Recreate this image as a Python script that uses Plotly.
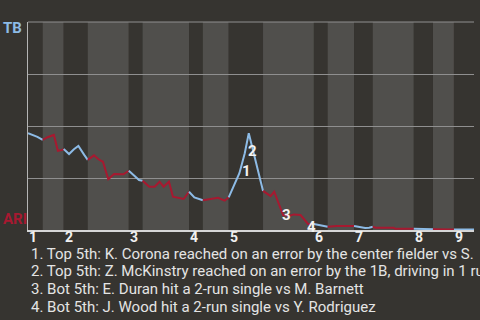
import plotly.graph_objects as go

# ---------------- data ----------------
teams = ["TB", "ARI"]
inning_labels = ["1", "2", "3", "4", "5", "6", "7", "8", "9"]
# half-inning boundaries along the play axis (top 1st, bot 1st, top 2nd, ...)
half_inning_edges = [0, 3.3, 8.0, 13.4, 22.6, 25.7, 36.1, 39.2, 45.0, 52.7,
                     64.1, 67.2, 73.1, 77.3, 86.5, 90.8, 95.5, 100]
# play position and TB win probability
play_x = [0, 1.0, 2.1, 3.3, 4.4, 5.8, 6.7, 7.7, 8.0, 9.2, 10.3, 11.3, 12.6, 13.4,
          14.8, 15.8, 16.8, 18.0, 19.3, 21.4, 22.6, 24.9, 25.7, 27.2, 28.4, 29.5,
          30.4, 31.6, 32.5, 33.6, 34.9, 36.1, 37.3, 39.2, 40.7, 42.6, 44.1, 45.0,
          46.3, 47.4, 48.6, 49.5, 52.7, 53.6, 54.4, 55.2, 57.2, 58.7, 59.6, 61.1,
          62.8, 64.1, 66.0, 67.2, 69.2, 73.1, 74.8, 75.6, 76.5, 77.3, 77.9, 82.0,
          82.3, 86.5, 90.8, 95.5, 100]
win_prob_tb = [0.465, 0.458, 0.448, 0.433, 0.446, 0.457, 0.381, 0.385, 0.389, 0.365,
               0.388, 0.404, 0.361, 0.337, 0.359, 0.340, 0.328, 0.244, 0.269, 0.268,
               0.285, 0.240, 0.237, 0.208, 0.208, 0.232, 0.208, 0.232, 0.160, 0.155,
               0.149, 0.184, 0.157, 0.143, 0.149, 0.155, 0.141, 0.157, 0.216, 0.273,
               0.369, 0.465, 0.188, 0.173, 0.163, 0.184, 0.072, 0.069, 0.075, 0.072,
               0.029, 0.029, 0.019, 0.016, 0.019, 0.019, 0.013, 0.010, 0.011, 0.016,
               0.011, 0.011, 0.006, 0.006, 0.004, 0.003, 0.002]
event_labels = ["1", "2", "3", "4"]
event_label_x = [49.1, 50.4, 58.0, 63.6]
event_label_y = [0.284, 0.380, 0.070, 0.014]
footnotes = [
    "1. Top 5th: K. Corona reached on an error by the center fielder vs S.",
    "2. Top 5th: Z. McKinstry reached on an error by the 1B, driving in 1 run",
    "3. Bot 5th: E. Duran hit a 2-run single vs M. Barnett",
    "4. Bot 5th: J. Wood hit a 2-run single vs Y. Rodriguez",
]

# ---------------- style ----------------
BG = "#363430"
BAND = "#504f4c"
GRID = "#8f8f8f"
BLUE = "#8dbbe6"
RED = "#a71930"
FONT = "Roboto"
W, H = 480, 320
ML, MR, MT, MB = 28, 6, 22, 90
PW, PH = W - ML - MR, H - MT - MB


def py_to_paper(py):
    return (H - MB - py) / PH


def px_to_paper(px):
    return (px - ML) / PW


fig = go.Figure()

# line segments coloured by half inning
for k in range(len(half_inning_edges) - 1):
    lo, hi = half_inning_edges[k], half_inning_edges[k + 1]
    xs = [x for x in play_x if lo - 1e-9 <= x <= hi + 1e-9]
    ys = [y for x, y in zip(play_x, win_prob_tb) if lo - 1e-9 <= x <= hi + 1e-9]
    fig.add_trace(go.Scatter(x=xs, y=ys, mode="lines",
                             line=dict(color=BLUE if k % 2 == 0 else RED, width=2),
                             hoverinfo="skip", showlegend=False))

shapes = []
for k in range(len(half_inning_edges) - 1):
    shapes.append(dict(type="rect", xref="x", yref="paper",
                       x0=half_inning_edges[k], x1=half_inning_edges[k + 1],
                       y0=0, y1=1, fillcolor=BG if k % 2 == 0 else BAND,
                       line=dict(width=0), layer="below"))
# top grid line at 100%
shapes.append(dict(type="line", xref="paper", yref="paper", x0=0, x1=1, y0=1, y1=1,
                   line=dict(color=GRID, width=1), layer="below"))

annotations = []
# inning numbers at the start of each top half
for i, lab in enumerate(inning_labels):
    annotations.append(dict(x=half_inning_edges[2 * i], y=py_to_paper(237),
                            xref="x", yref="paper", text="<b>" + lab + "</b>",
                            showarrow=False, xanchor="left", yanchor="middle",
                            xshift=-1,
                            font=dict(family=FONT, size=14, color="#f0f0f0")))
# event labels
for lab, ex, ey in zip(event_labels, event_label_x, event_label_y):
    annotations.append(dict(x=ex, y=ey, xref="x", yref="y",
                            text="<b>" + lab + "</b>", showarrow=False,
                            xanchor="center", yanchor="middle",
                            font=dict(family=FONT, size=15, color="#f2f2f2")))
# team labels
annotations.append(dict(x=px_to_paper(1), y=py_to_paper(28), xref="paper", yref="paper",
                        text="<b>" + teams[0] + "</b>", showarrow=False,
                        xanchor="left", yanchor="middle",
                        font=dict(family=FONT, size=15, color=BLUE)))
annotations.append(dict(x=px_to_paper(1), y=py_to_paper(219), xref="paper", yref="paper",
                        text="<b>" + teams[1] + "</b>", showarrow=False,
                        xanchor="left", yanchor="middle",
                        font=dict(family=FONT, size=15, color=RED)))
# footnotes
for i, t in enumerate(footnotes):
    annotations.append(dict(x=px_to_paper(29), y=py_to_paper(253.5 + 17.7 * i),
                            xref="paper", yref="paper", text=t, showarrow=False,
                            xanchor="left", yanchor="middle",
                            font=dict(family=FONT, size=15, color="#e4e4e4")))

fig.update_layout(
    width=W, height=H,
    margin=dict(l=ML, r=MR, t=MT, b=MB, pad=0),
    paper_bgcolor=BG, plot_bgcolor=BG,
    shapes=shapes, annotations=annotations,
    xaxis=dict(range=[0, 100], showticklabels=False, showgrid=False, zeroline=False,
               showline=True, linecolor="#d6d6d6", linewidth=2, ticks="", fixedrange=True),
    yaxis=dict(range=[0, 1], tickvals=[0.25, 0.5, 0.75, 1.0], showticklabels=False,
               showgrid=True, gridcolor=GRID, gridwidth=1, zeroline=False,
               showline=True, linecolor="#b5b5b5", linewidth=1, ticks="", fixedrange=True),
    showlegend=False,
)

fig.write_html("out.html", config={"displayModeBar": False})
